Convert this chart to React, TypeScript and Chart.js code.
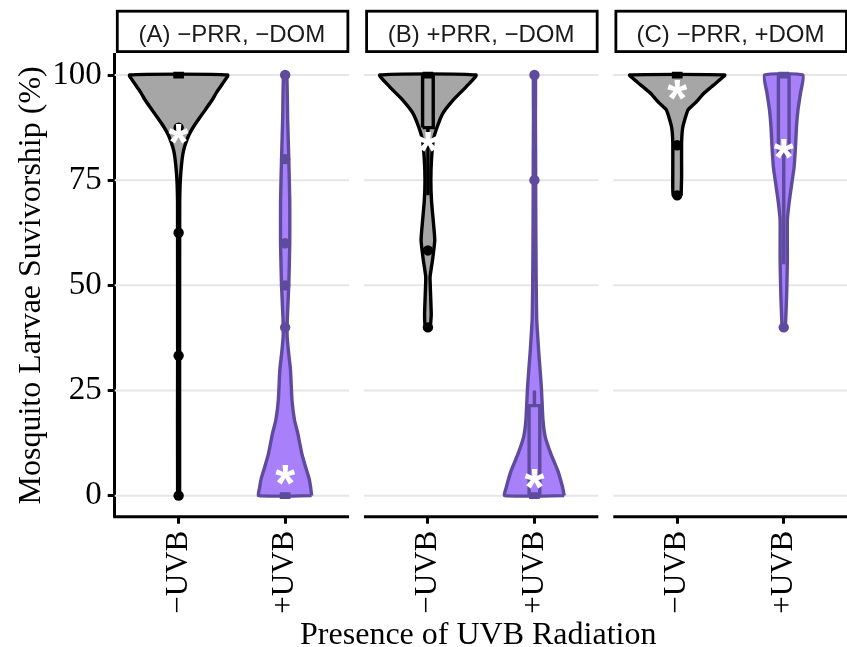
import { useEffect, useRef } from 'react';
import { Chart, registerables } from 'chart.js';

Chart.register(...registerables);

// ---------------- data ----------------
const facetLabels = ['(A) \u2212PRR, \u2212DOM', '(B) +PRR, \u2212DOM', '(C) \u2212PRR, +DOM'];
const categories = ['\u2212UVB', '+UVB'];
const yTicks = [0, 25, 50, 75, 100];

// violin density profiles: [survivorship %, relative density]
const violinAminus = [[0, 0.02], [35, 0.02], [70, 0.022], [74, 0.03], [77, 0.046], [80, 0.072], [82, 0.1], [84, 0.15], [86, 0.22], [88, 0.32], [90, 0.44], [92, 0.56], [94, 0.68], [96, 0.78], [98, 0.9], [100, 1]];
const violinAplus = [[0, 0.54], [2, 0.52], [4, 0.49], [6.7, 0.42], [10, 0.34], [14.7, 0.26], [18, 0.19], [22.6, 0.14], [30, 0.108], [34, 0.07], [38, 0.04], [42, 0.044], [50, 0.074], [60, 0.094], [70, 0.094], [80, 0.074], [90, 0.05], [95, 0.044], [100, 0.03]];
const violinBminus = [[40, 0.05], [43, 0.068], [48, 0.054], [52, 0.044], [56, 0.094], [60.7, 0.14], [65.5, 0.108], [70, 0.074], [75, 0.06], [80, 0.074], [84.5, 0.11], [87.7, 0.19], [91, 0.31], [94, 0.51], [97.2, 0.78], [100, 0.98]];
const violinBplus = [[0, 0.608], [2, 0.574], [6, 0.474], [10, 0.334], [14, 0.22], [18, 0.174], [26, 0.14], [34, 0.088], [38, 0.066], [42, 0.046], [50, 0.036], [60, 0.03], [70, 0.026], [80, 0.024], [90, 0.02], [100, 0.02]];
const violinCminus = [[71.4, 0.08], [76, 0.09], [84, 0.09], [87.7, 0.116], [91.7, 0.22], [93.5, 0.38], [95.6, 0.54], [97.2, 0.7], [98.6, 0.84], [100, 0.97]];
const violinCplus = [[40, 0.03], [41.7, 0.04], [48, 0.06], [56, 0.074], [65.5, 0.074], [69.5, 0.108], [73.4, 0.154], [78, 0.21], [83, 0.24], [87.7, 0.26], [91.7, 0.29], [95.6, 0.34], [100, 0.39]];
const violins = [violinAminus, violinAplus, violinBminus, violinBplus, violinCminus, violinCplus];

// box plot statistics (order: A−, A+, B−, B+, C−, C+)
const boxQ1 = [100, 0, 87.5, 0, 100, 81];
const boxMedian = [100, 0, 100, 0, 100, 100];
const boxQ3 = [100, 0, 100, 21.4, 100, 100];
const whiskerLow = [100, 0, 71.4, 0, 100, 55];
const whiskerHigh = [100, 0, 100, 25, 100, 100];
const outliers = [[0, 33.3, 62.5, 87.5], [40, 50, 60, 80, 100], [40, 58.3], [75, 100], [71.4, 83.3], [40]];
const means = [86, 5, 84, 4, 96.5, 82.5];

// ---------------- layout / style ----------------
const facetOffsets = [0, 2.34, 4.68];
const X_LO = 0.4;
const X_HI = 2.6;
const VIOLIN_HALF = 0.46;
const BOX_HALF = 0.05;
const SERIF = "'Liberation Serif', 'Times New Roman', Times, serif";
const SANS = "'Liberation Sans', Arial, Helvetica, sans-serif";
const GRID_COLOR = '#E6E6E6';
const fillColors = ['#A6A6A6', '#A780FA'];
const strokeColors = ['#000000', '#5E4B9E'];
const LW = 3.4;
const AXIS_LW = 3;

const centerOf = (i: number) => facetOffsets[Math.floor(i / 2)] + (i % 2) + 1;
const tickPositions = facetOffsets.flatMap((o) => [o + 1, o + 2]);
const tickLabels = facetOffsets.flatMap(() => categories);

function violinOutline(c: number, profile: number[][]) {
  const right = profile.map(([y, d]) => ({ x: c + d * VIOLIN_HALF, y }));
  const left = profile
    .slice()
    .reverse()
    .map(([y, d]) => ({ x: c - d * VIOLIN_HALF, y }));
  return [...right, ...left, right[0]];
}

function lineDs(data: any[], color: string, width: number, extra: any = {}) {
  return {
    type: 'line',
    data,
    borderColor: color,
    borderWidth: width,
    pointRadius: 0,
    tension: 0,
    fill: false,
    ...extra,
  };
}

function buildDatasets() {
  const layers: any[] = [];
  violins.forEach((profile, i) => {
    const c = centerOf(i);
    const k = i % 2;
    const stroke = strokeColors[k];
    const fillC = fillColors[k];
    layers.push(
      lineDs(violinOutline(c, profile), stroke, LW, {
        fill: 'shape',
        backgroundColor: fillC,
        tension: 0.15,
        borderJoinStyle: 'round',
      })
    );
    if (whiskerLow[i] < boxQ1[i]) {
      layers.push(lineDs([{ x: c, y: boxQ1[i] }, { x: c, y: whiskerLow[i] }], stroke, LW));
    }
    if (whiskerHigh[i] > boxQ3[i]) {
      layers.push(lineDs([{ x: c, y: boxQ3[i] }, { x: c, y: whiskerHigh[i] }], stroke, LW));
    }
    layers.push(
      lineDs(
        [
          { x: c - BOX_HALF, y: boxQ1[i] },
          { x: c + BOX_HALF, y: boxQ1[i] },
          { x: c + BOX_HALF, y: boxQ3[i] },
          { x: c - BOX_HALF, y: boxQ3[i] },
          { x: c - BOX_HALF, y: boxQ1[i] },
        ],
        stroke,
        LW,
        { fill: 'shape', backgroundColor: fillC }
      )
    );
    layers.push(
      lineDs([{ x: c - BOX_HALF, y: boxMedian[i] }, { x: c + BOX_HALF, y: boxMedian[i] }], stroke, LW * 2, {
        borderCapStyle: 'butt',
      })
    );
    layers.push({
      type: 'scatter',
      data: outliers[i].map((v) => ({ x: c, y: v })),
      pointRadius: 5.2,
      pointBackgroundColor: stroke,
      pointBorderWidth: 0,
      showLine: false,
    });
  });
  // first dataset is drawn on top in Chart.js, so reverse the layer order
  return layers.reverse();
}

const facetPlugin = {
  id: 'facetPanels',
  beforeDatasetsDraw(chart: any) {
    const { ctx, scales } = chart;
    const x = scales.x;
    const y = scales.y;
    ctx.save();
    ctx.strokeStyle = GRID_COLOR;
    ctx.lineWidth = 2;
    facetOffsets.forEach((o) => {
      const l = x.getPixelForValue(o + X_LO);
      const r = x.getPixelForValue(o + X_HI);
      yTicks.forEach((v) => {
        const py = y.getPixelForValue(v);
        ctx.beginPath();
        ctx.moveTo(l, py);
        ctx.lineTo(r, py);
        ctx.stroke();
      });
    });
    ctx.restore();
  },
  afterDatasetsDraw(chart: any) {
    const { ctx, scales } = chart;
    const x = scales.x;
    const y = scales.y;
    ctx.save();
    ctx.font = `bold 100px ${SANS}`;
    const m0 = ctx.measureText('*');
    const ink100 = (m0.actualBoundingBoxRight + m0.actualBoundingBoxLeft) || 40;
    const size = (20 * 100) / ink100;
    ctx.font = `bold ${size}px ${SANS}`;
    ctx.fillStyle = '#FFFFFF';
    ctx.textAlign = 'left';
    ctx.textBaseline = 'alphabetic';
    const m = ctx.measureText('*');
    means.forEach((v, i) => {
      const cx = x.getPixelForValue(centerOf(i));
      const cy = y.getPixelForValue(v);
      const dx = cx - (m.actualBoundingBoxRight - m.actualBoundingBoxLeft) / 2;
      const dy = cy + (m.actualBoundingBoxAscent - m.actualBoundingBoxDescent) / 2;
      ctx.fillText('*', dx, dy);
    });
    ctx.restore();
  },
  afterDraw(chart: any) {
    const { ctx, scales, chartArea } = chart;
    const x = scales.x;
    ctx.save();
    facetOffsets.forEach((o, fi) => {
      const l = x.getPixelForValue(o + X_LO);
      const r = x.getPixelForValue(o + X_HI);
      ctx.strokeStyle = '#000';
      ctx.lineWidth = AXIS_LW;
      ctx.beginPath();
      ctx.moveTo(fi === 0 ? l - AXIS_LW / 2 : l, chartArea.bottom);
      ctx.lineTo(r, chartArea.bottom);
      ctx.stroke();
      ctx.lineWidth = 2.8;
      ctx.fillStyle = '#FFFFFF';
      ctx.fillRect(l + 2.6, 11.2, r - l - 3.8, 40.4);
      ctx.strokeRect(l + 2.6, 11.2, r - l - 3.8, 40.4);
      ctx.fillStyle = '#1A1A1A';
      ctx.font = `24px ${SANS}`;
      ctx.textAlign = 'center';
      ctx.textBaseline = 'alphabetic';
      ctx.fillText(facetLabels[fi], (l + r) / 2, 41.5);
    });
    ctx.restore();
  },
};

export default function App() {
  const canvasRef = useRef<HTMLCanvasElement | null>(null);

  useEffect(() => {
    const canvas = canvasRef.current;
    if (!canvas) return;
    const chart = new Chart(canvas, {
      type: 'scatter',
      data: { datasets: buildDatasets() as any },
      options: {
        animation: false,
        responsive: false,
        events: [],
        layout: { padding: { top: 54, left: 0, right: 0, bottom: 0 } },
        plugins: {
          legend: { display: false },
          tooltip: { enabled: false },
        },
        scales: {
          x: {
            type: 'linear',
            min: X_LO,
            max: 7.225,
            afterBuildTicks: (s: any) => {
              s.ticks = tickPositions.map((v) => ({ value: v }));
            },
            afterFit: (s: any) => {
              s.height = 130.3;
            },
            grid: {
              display: true,
              drawOnChartArea: false,
              drawTicks: true,
              tickLength: 7,
              tickWidth: AXIS_LW,
              tickColor: '#000',
            },
            border: { display: false },
            ticks: {
              autoSkip: false,
              minRotation: 90,
              maxRotation: 90,
              padding: 7,
              color: '#000',
              font: { family: SERIF, size: 31 },
              callback: (_v: any, i: number) => tickLabels[i],
            },
            title: {
              display: true,
              text: 'Presence of UVB Radiation',
              color: '#000',
              font: { family: SERIF, size: 32, lineHeight: 0.7 },
              padding: 0,
            },
          },
          y: {
            type: 'linear',
            min: -5,
            max: 105,
            afterBuildTicks: (s: any) => {
              s.ticks = yTicks.map((v) => ({ value: v }));
            },
            afterFit: (s: any) => {
              s.width = 114.7;
            },
            grid: {
              display: true,
              drawOnChartArea: false,
              drawTicks: true,
              tickLength: 7,
              tickWidth: AXIS_LW,
              tickColor: '#000',
            },
            border: { display: true, color: '#000', width: AXIS_LW },
            ticks: {
              padding: 6,
              color: '#000',
              font: { family: SERIF, size: 33 },
            },
            title: {
              display: true,
              text: 'Mosquito Larvae Suvivorship (%)',
              color: '#000',
              font: { family: SERIF, size: 32 },
              padding: { top: 12, bottom: 0 },
            },
          },
        },
      } as any,
      plugins: [facetPlugin as any],
    });
    return () => chart.destroy();
  }, []);

  return (
    <div style={{ position: 'absolute', left: 0, top: 0, width: 847, height: 647, background: '#fff' }}>
      <canvas ref={canvasRef} width={847} height={647} />
    </div>
  );
}
